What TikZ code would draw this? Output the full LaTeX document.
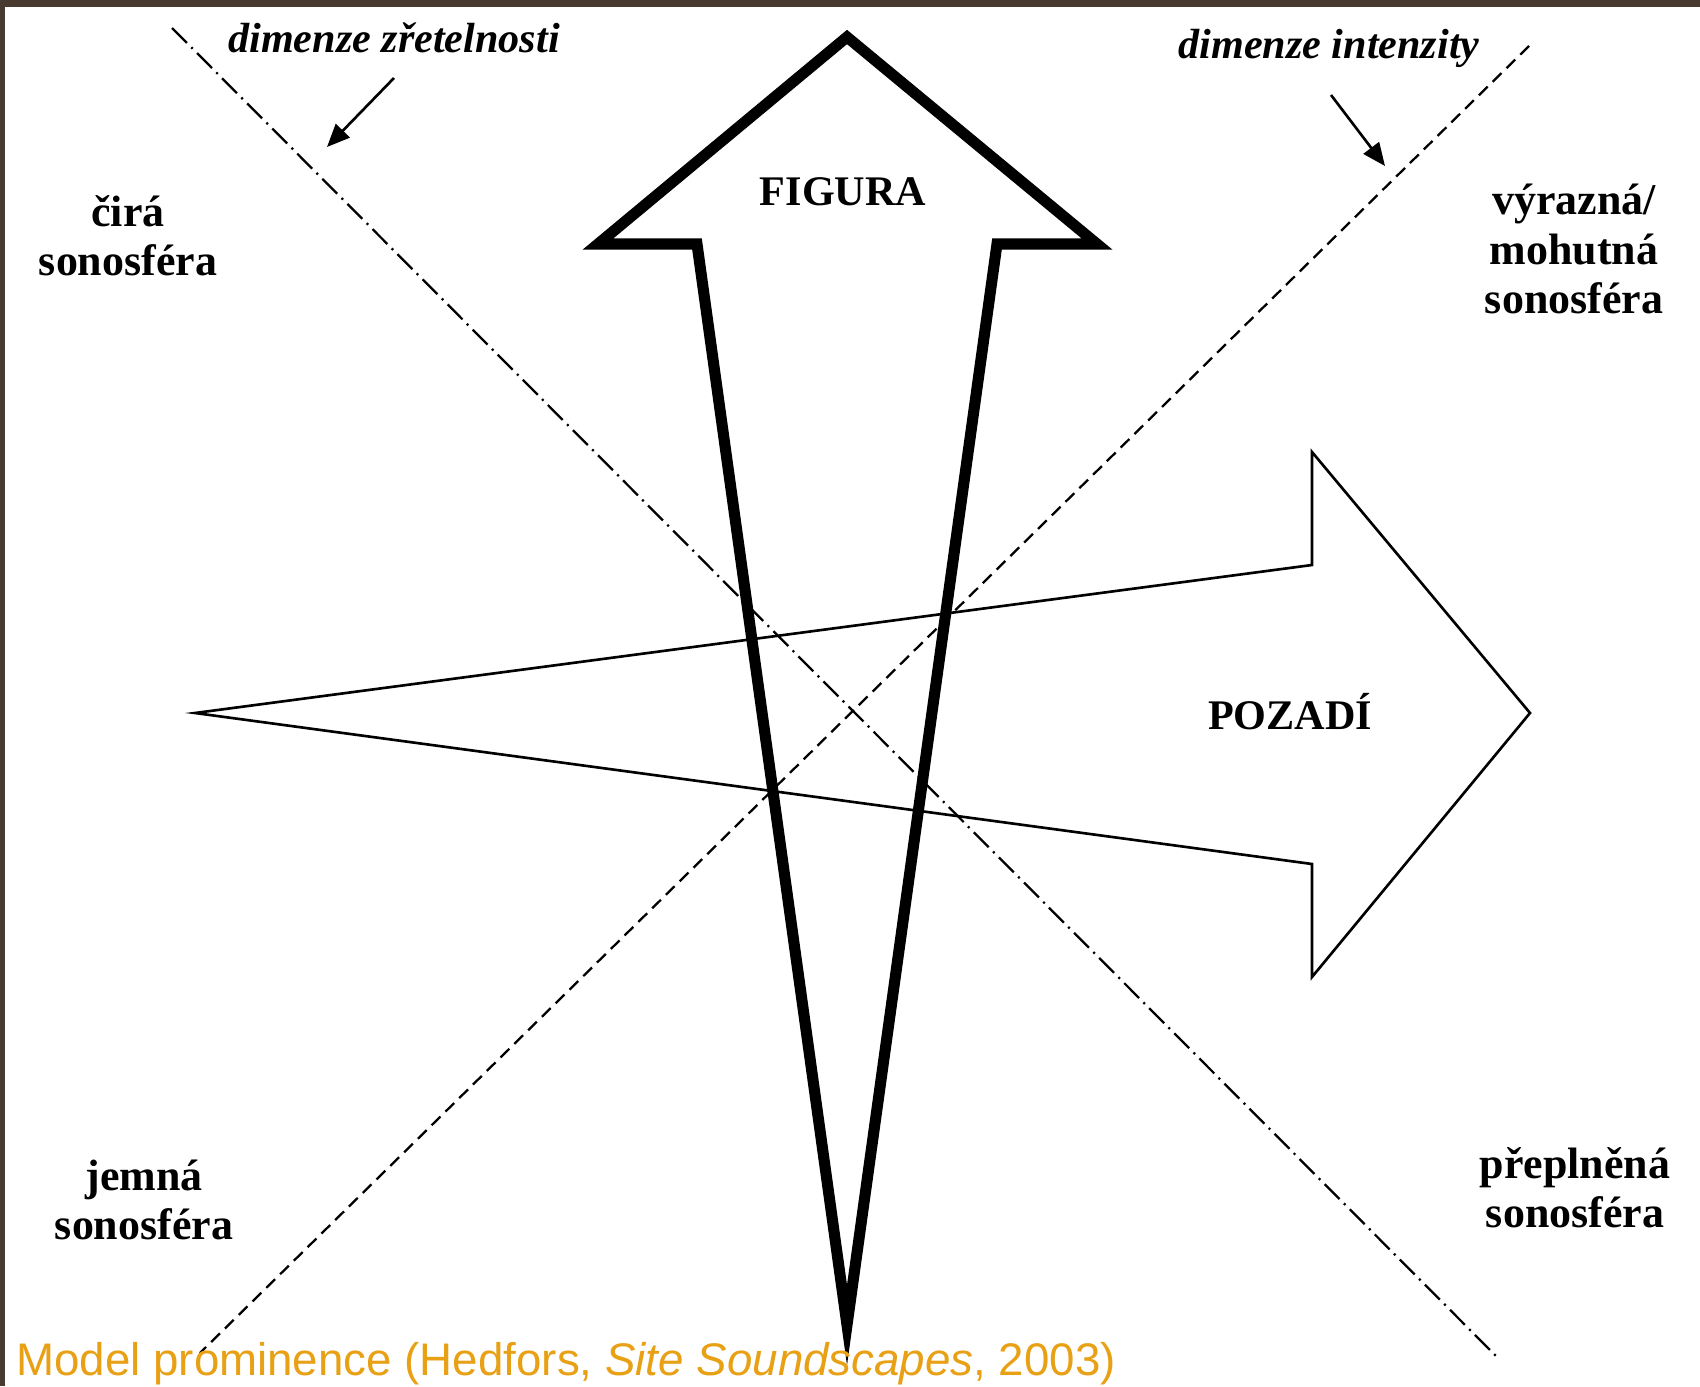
\documentclass[tikz,border=0pt]{standalone}
\usepackage{fontspec}
\setmainfont{Liberation Serif}
\newfontfamily\captionfont{Liberation Sans}
\usepackage{tikz}
\usetikzlibrary{arrows.meta,positioning}
\definecolor{frame}{RGB}{72,58,47}
\definecolor{gold}{RGB}{232,160,20}

\tikzset{
    figline/.style={line width=6.3pt,line join=miter},
    pozline/.style={line width=1.5pt,line join=miter},
    clarity/.style={line width=1.3pt,dash pattern=on 12pt off 3.5pt on 1.2pt off 3.5pt},
    intensity/.style={line width=1.3pt,dash pattern=on 7pt off 4pt},
    pointer/.style={line width=1.5pt,-{Triangle[length=13pt,width=11pt]}},
    zone/.style={font=\fontsize{25}{28}\selectfont\bfseries,align=center},
    dimlabel/.style={font=\fontsize{24}{28}\selectfont\bfseries\itshape},
    title/.style={font=\fontsize{24}{28}\selectfont\bfseries}
}

\begin{document}
\begin{tikzpicture}[x=0.02cm,y=-0.02cm,line cap=butt]

        % --- Canvas ---
        \useasboundingbox (0,0) rectangle (1700,1386);
        \fill[white] (0,0) rectangle (1700,1386);
        \fill[frame] (0,0) rectangle (1700,7);
        \fill[frame] (0,0) rectangle (5,1386);

        % --- Dimension lines ---
        \coordinate (zTop) at (172,28);
        \coordinate (zBot) at (1500,1360);
        \coordinate (iTop) at (1529,46);
        \coordinate (iBot) at (200,1353);

        \draw[clarity] (zTop) -- (zBot);
        \draw[intensity] (iTop) -- (iBot);

        % --- POZADI arrow ---
        \coordinate (pTail) at (195,713);
        \coordinate (pTip) at (1530,713);
        \draw[pozline] (pTail) -- (1312,565) -- (1312,452) -- (pTip)
            -- (1312,977) -- (1312,864) -- cycle;

        % --- FIGURA arrow ---
        \coordinate (fApex) at (847,37);
        \coordinate (fTip) at (847,1325);
        \draw[figline] (fApex) -- (1097,244) -- (997,244) -- (fTip)
            -- (697,244) -- (598,244) -- cycle;

        % titles
        \node[title] (figura) at (843,192) {FIGURA};
        \node[title] (pozadi) at (1290,712) {POZADÍ};

        % corner labels
        \node[zone] (cira) at (128,236) {čirá\\sonosféra};
        \node[zone] (vyrazna) at (1574,249) {výrazná/\\mohutná\\sonosféra};
        \node[zone] (jemna) at (144,1200) {jemná\\sonosféra};
        \node[zone] (preplnena) at (1575,1188) {přeplněná\\sonosféra};

        % dimension labels
        \node[dimlabel] (dimZ) at (394,38) {dimenze zřetelnosti};
        \node[dimlabel] (dimI) at (1329,48) {dimenze intenzity};

        % pointers to the lines
        \coordinate (zFrom) at (394,78);
        \coordinate (zTo) at (327,147);
        \draw[pointer] (zFrom) -- (zTo);

        \coordinate (iFrom) at (1331,95);
        \coordinate (iTo) at (1385,166);
        \draw[pointer] (iFrom) -- (iTo);

        % caption
        \node[anchor=base west,inner sep=0pt,text=gold,
            font=\captionfont\fontsize{26}{30}\selectfont] (caption) at (16,1375)
            {Model prominence (Hedfors, \textit{Site Soundscapes}, 2003)};

\end{tikzpicture}
\end{document}
